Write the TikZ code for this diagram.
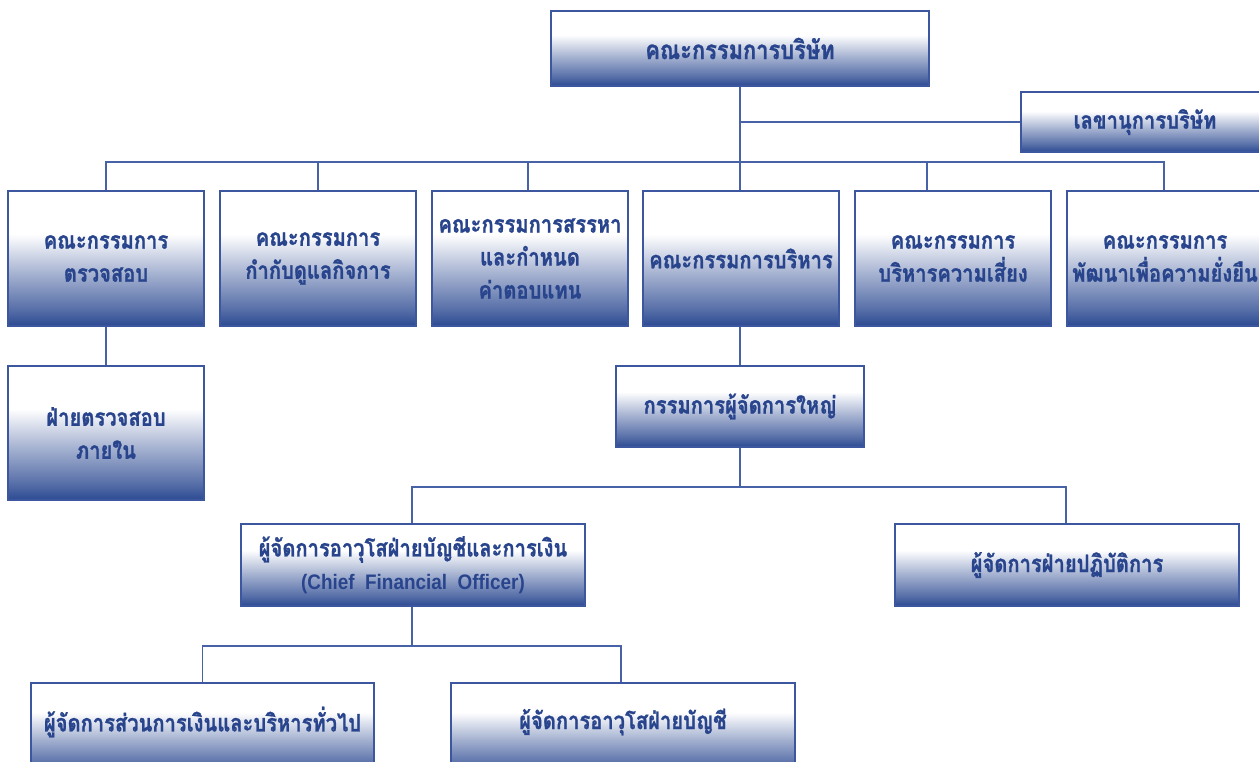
\documentclass[tikz,border=0pt]{standalone}
\usepackage{fontspec}
\newfontfamily\thaifont[Script=Thai,FakeStretch=0.84,BoldFeatures={FakeBold=1}]{Loma}
\newfontfamily\latinfont[FakeStretch=0.9]{Liberation Sans}
\definecolor{boxblue}{RGB}{44,74,146}
\definecolor{framecol}{RGB}{60,86,160}
\definecolor{linecol}{RGB}{72,98,168}
\definecolor{txtcol}{RGB}{40,68,140}
\pgfdeclareverticalshading{boxshade}{100bp}{color(0bp)=(boxblue); color(25bp)=(boxblue); color(31bp)=(boxblue!80!white); color(44bp)=(boxblue!44!white); color(59bp)=(white); color(100bp)=(white)}
\tikzset{
  orgbox/.style={draw=framecol, line width=1.2pt, shading=boxshade, rectangle, inner sep=0pt,
    align=center, text=txtcol, font=\thaifont\bfseries\fontsize{24}{33}\selectfont},
  boxtext/.style={inner sep=0pt, align=center, text=txtcol, font=\thaifont\bfseries\fontsize{24}{33}\selectfont},
  conn/.style={draw=linecol, line width=1.3pt}
}
\begin{document}
\begin{tikzpicture}[x=1pt,y=-1pt]
\fill[white] (0,0) rectangle (1259,762);
\useasboundingbox (0,0) rectangle (1259,762);
\clip (0,0) rectangle (1259,762);
% boxes
\node[orgbox, minimum width=378pt, minimum height=75pt, font=\thaifont\bfseries\fontsize{26}{33}\selectfont] (top) at (740,48.5) {คณะกรรมการบริษัท};
\node[orgbox, minimum width=248pt, minimum height=60pt] (sec) at (1145,122) {เลขานุการบริษัท};
\node[orgbox, minimum width=196pt, minimum height=135pt] (A) at (106,258.5) {คณะกรรมการ\\ตรวจสอบ};
\node[orgbox, minimum width=196pt, minimum height=135pt] (B) at (318,258.5) {คณะกรรมการ\\กำกับดูแลกิจการ};
\node[orgbox, minimum width=196pt, minimum height=135pt] (C) at (530,258.5) {คณะกรรมการสรรหา\\และกำหนด\\ค่าตอบแทน};
\node[orgbox, minimum width=196pt, minimum height=135pt] (D) at (741,258.5) {คณะกรรมการบริหาร};
\node[orgbox, minimum width=196pt, minimum height=135pt] (E) at (953,258.5) {คณะกรรมการ\\บริหารความเสี่ยง};
\node[orgbox, minimum width=196pt, minimum height=135pt] (F) at (1165,258.5) {คณะกรรมการ\\พัฒนาเพื่อความยั่งยืน};
\node[orgbox, minimum width=196pt, minimum height=134pt] (audit) at (106,433) {ฝ่ายตรวจสอบ\\ภายใน};
\node[orgbox, minimum width=248pt, minimum height=81pt] (ceo) at (740,406.5) {กรรมการผู้จัดการใหญ่};
\node[orgbox, minimum width=344pt, minimum height=82pt] (cfo) at (413,565) {ผู้จัดการอาวุโสฝ่ายบัญชีและการเงิน\\{\latinfont\bfseries\fontsize{21}{33}\selectfont (Chief\ \ Financial\ \ Officer)}};
\node[orgbox, minimum width=344pt, minimum height=82pt] (ops) at (1067,565) {ผู้จัดการฝ่ายปฏิบัติการ};
\node[orgbox, minimum width=343pt, minimum height=92pt] (fin) at (202.5,729) {};
\node[boxtext] (fintext) at (fin.center |- 0,722) {ผู้จัดการส่วนการเงินและบริหารทั่วไป};
\node[orgbox, minimum width=344pt, minimum height=92pt] (acc) at (623,729) {};
\node[boxtext] (acctext) at (acc.center |- 0,722) {ผู้จัดการอาวุโสฝ่ายบัญชี};
% connectors
\coordinate (bus) at (740,162);
\coordinate (bus2) at (740,487);
\coordinate (bus3) at (412,646);
\draw[conn] (top.south) -- (top.south |- D.north);
\draw[conn] (top.south |- sec.west) -- (sec.west);
\draw[conn] (A.north) |- (bus);
\draw[conn] (B.north) |- (bus);
\draw[conn] ([xshift=-2pt]C.north) |- (bus);
\draw[conn] ([xshift=-26pt]E.north) |- (bus);
\draw[conn] ([xshift=-1pt]F.north) |- (bus);
\draw[conn] (A.south) -- (audit.north);
\draw[conn] (ceo.north |- D.south) -- (ceo.north);
\draw[conn] (ceo.south) -- (bus2);
\draw[conn] ([xshift=-1pt]cfo.north) |- (bus2);
\draw[conn] ([xshift=-1pt]ops.north) |- (bus2);
\draw[conn] ([xshift=-1pt]cfo.south) -- (bus3);
\draw[conn] (fin.north) |- (bus3);
\draw[conn] ([xshift=-2pt]acc.north) |- (bus3);
\end{tikzpicture}
\end{document}
